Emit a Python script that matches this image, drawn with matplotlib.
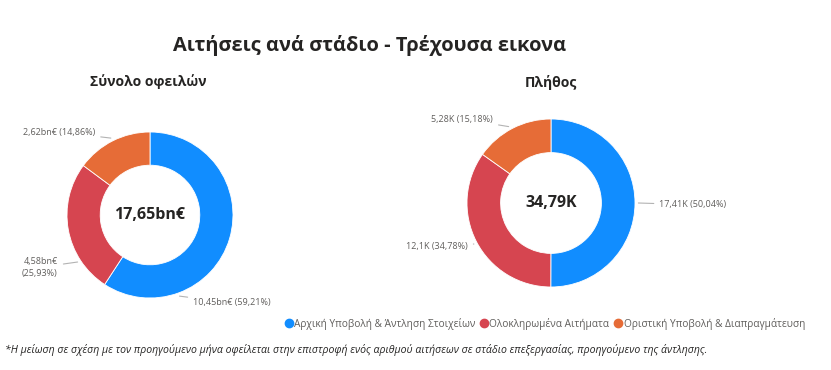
import numpy as np
import matplotlib.pyplot as plt

# Data
stages = ['Αρχική Υποβολή & Άντληση Στοιχείων', 'Ολοκληρωμένα Αιτήματα', 'Οριστική Υποβολή & Διαπραγμάτευση']
colors = ['#118DFF', '#D64550', '#E66C37']

amount_vals = [10.45, 4.58, 2.62]  # bn€
amount_labels = ['10,45bn€ (59,21%)', '4,58bn€\n(25,93%)', '2,62bn€ (14,86%)']
amount_total = '17,65bn€'

count_vals = [17.41, 12.1, 5.28]  # K
count_labels = ['17,41K (50,04%)', '12,1K (34,78%)', '5,28K (15,18%)']
count_total = '34,79K'

plt.rcParams['font.family'] = ['Open Sans', 'DejaVu Sans']

W, H = 831, 370
fig = plt.figure(figsize=(W / 100, H / 100), dpi=100)


def donut_axes(cx, cy, r):
    ax = fig.add_axes([(cx - r) / W, 1 - (cy + r) / H, 2 * r / W, 2 * r / H])
    ax.set_xlim(-1, 1)
    ax.set_ylim(-1, 1)
    ax.axis('off')
    return ax


def draw_donut(ax, vals, labels, total, anchor_angles, text_pos, aligns):
    ax.pie(vals, colors=colors, startangle=90, counterclock=False, radius=1,
           wedgeprops=dict(width=0.4, edgecolor='white', linewidth=0.6))
    ax.set_xlim(-1, 1)
    ax.set_ylim(-1, 1)
    ax.text(0, 0, total, ha='center', va='center', fontsize=11.5, fontweight='bold', color='#252423')
    for lab, ang, pos, ha in zip(labels, anchor_angles, text_pos, aligns):
        a = np.deg2rad(ang)
        p = (1.04 * np.cos(a), 1.04 * np.sin(a))
        ax.annotate(lab, xy=p, xytext=pos, ha=ha, va='center', fontsize=6.5, color='#605E5C',
                    annotation_clip=False, linespacing=1.4,
                    arrowprops=dict(arrowstyle='-', color='#B3B3B3', lw=0.8,
                                    shrinkA=2, shrinkB=0))


ax1 = donut_axes(150, 215, 83)
draw_donut(ax1, amount_vals, amount_labels, amount_total,
           [-70, 213, 117], [(0.52, -1.06), (-1.11, -0.63), (-0.66, 1.0)],
           ['left', 'right', 'right'])

ax2 = donut_axes(551, 203, 84)
draw_donut(ax2, count_vals, count_labels, count_total,
           [0, 208, 119], [(1.29, -0.02), (-0.99, -0.52), (-0.69, 1.0)],
           ['left', 'right', 'right'])

fig.text(370 / W, 1 - 45 / H, 'Αιτήσεις ανά στάδιο - Τρέχουσα εικονα', ha='center', va='center',
         fontsize=14.4, fontweight='bold', color='#252423')
fig.text(148 / W, 1 - 82 / H, 'Σύνολο οφειλών', ha='center', va='center',
         fontsize=10, fontweight='bold', color='#252423')
fig.text(551 / W, 1 - 82 / H, 'Πλήθος', ha='center', va='center',
         fontsize=10, fontweight='bold', color='#252423')

handles = [plt.Line2D([], [], marker='o', linestyle='', color=c, markersize=6) for c in colors]
fig.legend(handles, stages, loc='center right', bbox_to_anchor=(814 / W, 1 - 324 / H), ncol=3,
           frameon=False, fontsize=7.3, handletextpad=0.0, columnspacing=0.4, handlelength=1.0,
           labelcolor='#605E5C')

fig.text(5 / W, 1 - 350 / H,
         '*Η μείωση σε σχέση με τον προηγούμενο μήνα οφείλεται στην επιστροφή ενός αριθμού αιτήσεων '
         'σε στάδιο επεξεργασίας, προηγούμενο της άντλησης.',
         ha='left', va='center', fontsize=7.6, fontstyle='italic', color='#252423')

fig.savefig('out.png', dpi=100, facecolor='white')
